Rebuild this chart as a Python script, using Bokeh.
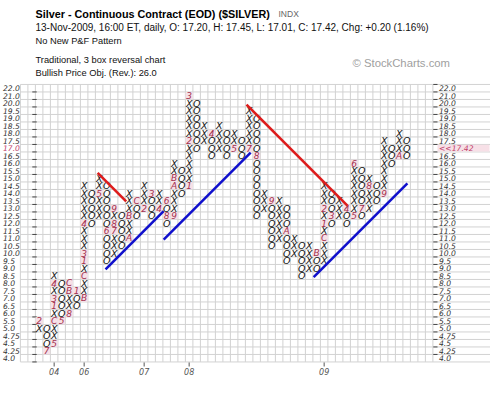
import numpy as np
from bokeh.plotting import figure
from bokeh.models import Range1d
from bokeh.core.properties import value
from bokeh.embed import file_html
from bokeh.resources import INLINE

# ---------------- data ----------------
box_prices = [4.0, 4.25, 4.5, 4.75, 5.0, 5.5, 6.0, 6.5, 7.0, 7.5, 8.0, 8.5, 9.0, 9.5,
              10.0, 10.5, 11.0, 11.5, 12.0, 12.5, 13.0, 13.5, 14.0, 14.5, 15.0, 15.5,
              16.0, 16.5, 17.0, 17.5, 18.0, 18.5, 19.0, 19.5, 20.0, 21.0, 22.0]
box_labels = ["4.0", "4.25", "4.5", "4.75", "5.0", "5.5", "6.0", "6.5", "7.0", "7.5",
              "8.0", "8.5", "9.0", "9.5", "10.0", "10.5", "11.0", "11.5", "12.0", "12.5",
              "13.0", "13.5", "14.0", "14.5", "15.0", "15.5", "16.0", "16.5", "17.0",
              "17.5", "18.0", "18.5", "19.0", "19.5", "20.0", "21.0", "22.0"]

col_type = ["X", "O"] * 25
col_low = [5.0, 4.25, 4.5, 5.5, 6.0, 6.5, 7.0, 12.0, 12.5, 9.5,
           10.0, 10.5, 11.0, 12.5, 13.0, 12.5, 13.0, 12.0, 12.5, 14.0,
           14.5, 17.0, 17.5, 16.5, 17.0, 16.5, 17.0, 16.5, 17.0, 12.5,
           13.0, 10.5, 11.0, 9.5, 10.0, 8.5, 9.0, 9.0, 9.5, 12.0,
           12.5, 12.0, 12.5, 12.5, 13.0, 13.5, 14.0, 16.0, 16.5, 16.5]
col_high = [5.5, 5.0, 8.5, 8.0, 8.0, 7.5, 14.5, 14.0, 15.0, 14.5,
            13.0, 12.5, 14.0, 13.5, 14.5, 14.0, 14.0, 13.5, 16.0, 15.5,
            21.0, 20.0, 18.5, 18.0, 18.5, 18.0, 18.0, 17.5, 19.5, 19.0,
            14.0, 13.5, 13.5, 13.0, 11.0, 10.5, 10.5, 10.0, 14.5, 14.0,
            13.5, 13.0, 16.0, 15.5, 15.0, 14.5, 17.5, 17.0, 18.0, 17.5]

month_col = [1, 2, 3, 3, 3, 3, 3, 4, 5, 5, 5, 6, 7, 7, 7, 7, 7,
             9, 10, 11, 11, 11, 13, 13, 14, 15, 16, 17, 18, 18, 19, 19, 19,
             21, 21, 21, 24, 27, 29, 30, 32, 34, 38, 39, 39, 39, 40, 42, 43, 43,
             44, 45, 47, 49]
month_price = [5.5, 4.25, 4.5, 5.5, 6.5, 7.0, 8.0, 5.5, 6.0, 7.5, 8.0, 7.5, 7.0, 8.5, 9.5, 10.0, 12.0,
               14.0, 11.5, 11.5, 12.0, 13.0, 11.0, 12.5, 13.5, 13.0, 14.0, 13.0, 13.5, 12.5, 12.5, 14.5, 15.0,
               14.5, 17.5, 21.0, 18.0, 17.0, 17.0, 16.5, 13.5, 11.5, 10.0, 11.0, 12.0, 13.0, 12.5, 13.0, 12.5, 16.0,
               13.0, 14.5, 14.0, 16.5]
month_char = ["2", "7", "5", "C", "1", "3", "4", "5", "8", "B", "C", "1", "B", "C", "1", "3", "4",
              "5", "6", "7", "8", "9", "A", "B", "C", "2", "3", "4", "6", "8", "9", "A", "B",
              "1", "2", "3", "4", "5", "7", "8", "9", "A", "B", "C", "1", "2", "3", "4", "5", "6",
              "7", "8", "9", "A"]

year_labels = ["04", "06", "07", "08", "09"]
year_cols = [3, 7, 15, 21, 39]

# trend lines in (column, box-row) units
bull_x0 = [9.85, 17.6, 37.6]
bull_y0 = [11.85, 15.8, 10.8]
bull_x1 = [17.6, 29.2, 50.1]
bull_y1 = [19.6, 27.4, 23.3]
bear_x0 = [8.8, 28.65]
bear_y0 = [24.7, 33.8]
bear_x1 = [12.6, 42.1]
bear_y1 = [20.9, 20.35]

last_price = 17.42

# ---------------- layout helpers ----------------
W, H = 490, 404
CW = 7.5          # pixel size of one box
PX0 = 31.15       # pixel x of column 0 centre
PY0 = 357.7       # pixel y (from top) of row 0 centre


def gx(px):
    return (px - PX0) / CW


def gy(py):
    return (PY0 - py) / CW


p = figure(width=W, height=H, x_range=Range1d(gx(0), gx(W)), y_range=Range1d(gy(H), gy(0)),
           output_backend="svg", toolbar_location=None, x_axis_location=None,
           y_axis_location=None, min_border=0, outline_line_color=None)
p.grid.visible = False
p.background_fill_color = "white"
p.border_fill_color = "white"

n_rows = len(box_prices)
grid_left, grid_right = -1.5, 53.5
# grid lines
vx = np.arange(grid_left, grid_right + 0.01, 1.0)
p.segment(x0=vx, y0=-0.5, x1=vx, y1=n_rows - 0.5, line_color="#d2d2d2", line_width=1)
hy = np.arange(-0.5, n_rows, 1.0)
p.segment(x0=grid_left, y0=hy, x1=gx(W), y1=hy, line_color="#d2d2d2", line_width=1)

# small tick dashes
tick_y = np.arange(-0.5, n_rows - 1, 1.0)
p.segment(x0=gx(31.8), y0=tick_y, x1=gx(36.2), y1=tick_y, line_color="#444444", line_width=1)
p.segment(x0=gx(432.8), y0=tick_y + 1, x1=gx(437.0), y1=tick_y + 1, line_color="#444444", line_width=1)

# ---------------- boxes ----------------
row_of = {v: i for i, v in enumerate(box_prices)}
marks = {(c, row_of[pr]): ch for c, pr, ch in zip(month_col, month_price, month_char)}
bx, by, bt = [], [], []
for i, (t, lo, hi) in enumerate(zip(col_type, col_low, col_high), start=1):
    for k in range(row_of[lo], row_of[hi] + 1):
        if (i, k) not in marks:
            bx.append(i)
            by.append(k)
            bt.append(t)
mx = [c for c, _ in marks.keys()]
my = [k for _, k in marks.keys()]
mt = list(marks.values())

p.rect(x=mx, y=my, width=0.95, height=0.95, fill_color="#f7e0e7", line_color=None)

glyph_font = value("DejaVu Sans")
p.text(x=bx, y=by, text=bt, text_font=glyph_font, text_font_size="9.5px",
       text_font_style="italic", text_align="center", text_baseline="middle",
       text_color="#111111")
p.text(x=mx, y=my, text=mt, text_font=glyph_font, text_font_size="9px",
       text_font_style="italic", text_align="center", text_baseline="middle",
       text_color="#a3304e")

# trend lines
p.segment(x0=bull_x0, y0=bull_y0, x1=bull_x1, y1=bull_y1, line_color="#1010cc", line_width=2.6)
p.segment(x0=bear_x0, y0=bear_y0, x1=bear_x1, y1=bear_y1, line_color="#dd1c1c", line_width=2.6)

# ---------------- price scales ----------------
last_row = max(i for i, v in enumerate(box_prices) if v <= last_price)
rows = list(range(n_rows))
left_col = ["#c0406a" if k == last_row else "#333333" for k in rows]
right_txt = [("<<%.2f" % last_price) if k == last_row else box_labels[k] for k in rows]
right_col = ["#c0406a" if k == last_row else "#333333" for k in rows]

p.text(x=gx(2.5), y=rows, text=box_labels, text_color=left_col, text_font=glyph_font,
       text_font_size="7.6px", text_font_style="italic", text_align="left",
       text_baseline="middle")
p.rect(x=gx(463), y=last_row, width=52 / CW, height=0.9, fill_color="#f7e0e7", line_color=None)
p.text(x=gx(438.5), y=rows, text=right_txt, text_color=right_col, text_font=glyph_font,
       text_font_size="7.6px", text_font_style="italic", text_align="left",
       text_baseline="middle")

# years
p.segment(x0=year_cols, y0=gy(362), x1=year_cols, y1=gy(366), line_color="#555555", line_width=1)
p.text(x=year_cols, y=gy(371), text=year_labels, text_color="#555555", text_font=glyph_font,
       text_font_size="8px", text_font_style="italic", text_align="center",
       text_baseline="middle")

# ---------------- header ----------------
hfont = value("Liberation Sans")
p.text(x=[gx(35)], y=[gy(13)], text=["Silver - Continuous Contract (EOD) ($SILVER)"],
       text_font=hfont, text_font_size="10.8px", text_font_style="bold",
       text_baseline="middle", text_color="#000000")
p.text(x=[gx(278)], y=[gy(13)], text=["INDX"], text_font=hfont, text_font_size="8.5px",
       text_baseline="middle", text_color="#666666")
p.text(x=[gx(35)], y=[gy(27)],
       text=["13-Nov-2009, 16:00 ET, daily, O: 17.20, H: 17.45, L: 17.01, C: 17.42, Chg: +0.20 (1.16%)"],
       text_font=hfont, text_font_size="10px", text_baseline="middle", text_color="#111111")
p.text(x=[gx(35)] * 3, y=[gy(40), gy(59), gy(72)],
       text=["No New P&F Pattern", "Traditional, 3 box reversal chart",
             "Bullish Price Obj. (Rev.): 26.0"],
       text_font=hfont, text_font_size="9.3px", text_baseline="middle", text_color="#111111")
p.text(x=[gx(352)], y=[gy(62)], text=["\u00a9 StockCharts.com"], text_font=hfont,
       text_font_size="11.3px", text_baseline="middle", text_color="#a0a0a0")

open("out.html", "w").write(file_html(p, INLINE))
